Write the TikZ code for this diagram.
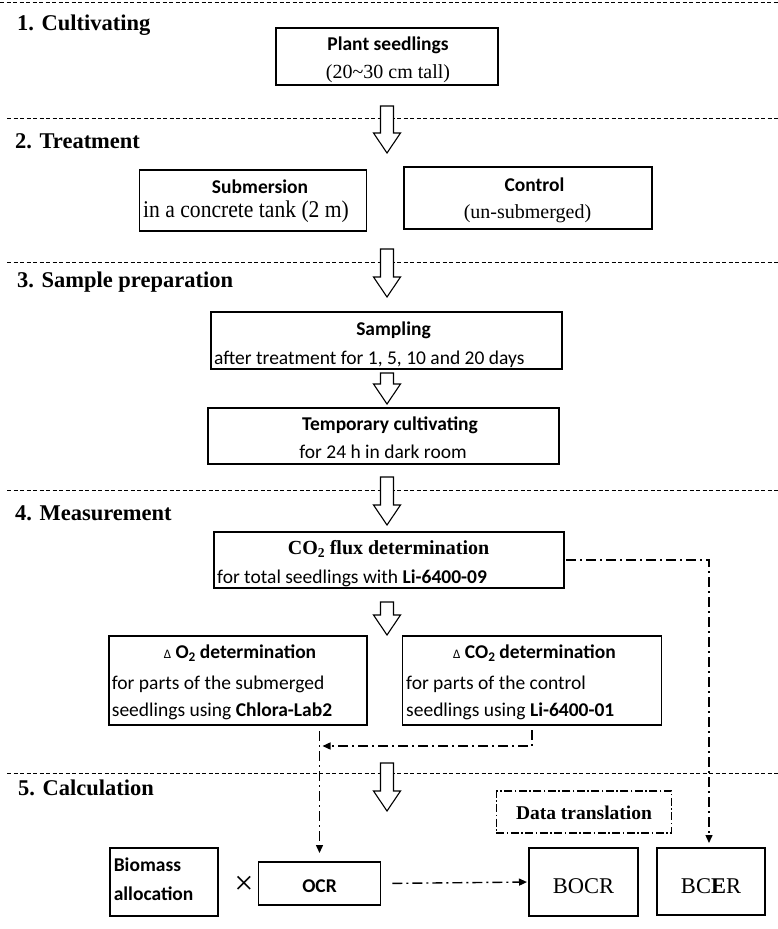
\documentclass[tikz,border=0pt]{standalone}
\usepackage{fontspec}
\setmainfont{Liberation Serif}
\newfontfamily\calfont{Carlito}
\newfontfamily\condserif{Liberation Serif}[FakeStretch=0.9]
\usetikzlibrary{arrows.meta}
\newcommand\mysub[1]{\raisebox{-0.3ex}{\scalebox{0.68}{#1}}}
\newcommand\harrow[3]{%
  \draw[line width=1.1pt, fill=white, line join=miter]
    (#1-6.5,#2) -- (#1+6.5,#2) -- (#1+6.5,#3-20) -- (#1+13.5,#3-20) -- (#1,#3)
    -- (#1-13.5,#3-20) -- (#1-6.5,#3-20) -- cycle;}
\begin{document}
\begin{tikzpicture}[x=1pt,y=-1pt,
  box/.style={draw, line width=1.2pt, inner sep=0pt, outer sep=0pt},
  thickbox/.style={draw, line width=2.2pt, inner sep=0pt, outer sep=0pt},
  sec/.style={font=\fontsize{22.5}{22.5}\selectfont\bfseries, anchor=base west, inner sep=0pt},
  ct/.style={font=\calfont\fontsize{19.5}{19.5}\selectfont\bfseries, anchor=base, inner sep=0pt},
  cr/.style={font=\calfont\fontsize{19.5}{19.5}\selectfont, anchor=base, inner sep=0pt},
  crl/.style={font=\calfont\fontsize{19.5}{19.5}\selectfont, anchor=base west, inner sep=0pt},
  ctl/.style={font=\calfont\fontsize{19.5}{19.5}\selectfont\bfseries, anchor=base west, inner sep=0pt},
  sr/.style={font=\fontsize{20}{20}\selectfont, anchor=base, inner sep=0pt},
  sb/.style={font=\fontsize{20}{20}\selectfont\bfseries, anchor=base, inner sep=0pt},
  sep/.style={line width=1pt, dash pattern=on 4pt off 2.5pt},
  dd/.style={line width=1.4pt, dash pattern=on 10pt off 4pt on 2pt off 4pt},
  tip/.style={-{Triangle[length=8pt,width=7pt]}}
]
\useasboundingbox (0,0) rectangle (778,929);
\fill[white] (0,0) rectangle (778,929);

% separators
\draw[sep] (0,2) -- (778,2);
\draw[sep] (7,118) -- (778,118);
\draw[sep] (7,262) -- (778,262);
\draw[sep] (7,490) -- (778,490);
\draw[sep] (7,773) -- (778,773);

% section labels
\node[sec] (s1) at (17,30) {1. Cultivating};
\node[sec] (s2) at (15,148) {2. Treatment};
\node[sec] (s3) at (17,287.3) {3. Sample preparation};
\node[sec] (s4) at (15,520.7) {4. Measurement};
\node[sec] (s5) at (18,795.7) {5. Calculation};

% boxes
\node[box, minimum width=222pt, minimum height=57pt] (ps) at (387,56.5) {};
\node[box, minimum width=227pt, minimum height=61pt] (sub) at (253,200.5) {};
\node[box, minimum width=248pt, minimum height=62pt] (ctl) at (528,198) {};
\node[box, minimum width=351pt, minimum height=57pt] (samp) at (386.5,340.5) {};
\node[box, minimum width=351pt, minimum height=56pt] (temp) at (383.5,436) {};
\node[box, minimum width=350pt, minimum height=56pt] (flux) at (389,560) {};
\node[box, minimum width=258pt, minimum height=89pt] (do2) at (238,680.5) {};
\node[box, minimum width=259pt, minimum height=89pt] (dco2) at (532,680.5) {};
\node[draw, line width=1.1pt, dash pattern=on 8pt off 2.5pt on 1.5pt off 2.5pt, inner sep=0pt,
      minimum width=175.5pt, minimum height=42pt] (dt) at (584,812) {};
\node[box, minimum width=108pt, minimum height=68pt] (bio) at (164,882) {};
\node[box, minimum width=121.6pt, minimum height=43pt] (ocr) at (319.5,883.5) {};
\node[thickbox, minimum width=109pt, minimum height=68pt] (bocr) at (583.5,882) {};
\node[thickbox, minimum width=108.6pt, minimum height=67pt] (bcer) at (711,881.5) {};

% box texts
\node[ct] (t1a) at (388,50.7) {Plant seedlings};
\node[sr] (t1b) at (388,78.5) {(20\textasciitilde30 cm tall)};
\node[ct] (t2a) at (260,193) {Submersion};
\node[font=\condserif\fontsize{24}{24}\selectfont, anchor=base west, inner sep=0pt] (t2b) at (143,217.3) {in a concrete tank (2 m)};
\node[ct] (t3a) at (534.5,191.7) {Control};
\node[sr] (t3b) at (527.5,218.5) {(un-submerged)};
\node[ct] (t4a) at (393.5,335) {Sampling};
\node[crl] (t4b) at (214,364.5) {after treatment for 1, 5, 10 and 20 days};
\node[ct] (t5a) at (390,430.3) {Temporary cultivating};
\node[cr] (t5b) at (383,458.7) {for 24 h in dark room};
\node[sb] (t6a) at (388.6,554.5) {CO\mysub{2} flux determination};
\node[crl] (t6b) at (217,583.7) {for total seedlings with \textbf{Li-6400-09}};
\node[ct] (t7a) at (240,658.3) {{\mdseries\fontsize{13}{13}\selectfont Δ} O\mysub{2} determination};
\node[crl] (t7b) at (111.7,689) {for parts of the submerged};
\node[crl] (t7c) at (111.7,716) {seedlings using \textbf{Chlora-Lab2}};
\node[ct] (t8a) at (534.5,658.3) {{\mdseries\fontsize{13}{13}\selectfont Δ} CO\mysub{2} determination};
\node[crl] (t8b) at (406,689) {for parts of the control};
\node[crl] (t8c) at (406,716) {seedlings using \textbf{Li-6400-01}};
\node[font=\fontsize{19.5}{19.5}\selectfont\bfseries, anchor=base, inner sep=0pt] (t9) at (584,819.3) {Data translation};
\node[ctl] (t10a) at (113.6,871) {Biomass};
\node[ctl] (t10b) at (113.6,900) {allocation};
\node[font=\fontsize{34}{34}\selectfont, anchor=center, inner sep=0pt] (times) at (244,885) {×};
\node[ct] (t11) at (319.5,892.5) {OCR};
\node[font=\fontsize{22.5}{22.5}\selectfont, anchor=base, inner sep=0pt] (t12) at (583.5,893.3) {BOCR};
\node[font=\fontsize{22.5}{22.5}\selectfont, anchor=base, inner sep=0pt] (t13) at (711,893.3) {BC\textbf{E}R};

% hollow arrows
\harrow{387}{106}{153}
\harrow{387}{249}{297}
\harrow{387}{373}{404}
\harrow{387}{477}{525}
\harrow{387}{602}{635}
\harrow{387}{763}{811}

% dash-dot connectors
\draw[dd, tip, shorten <=2pt, shorten >=5pt] (flux.east) -| ([xshift=-2pt]bcer.north);
\path (0,746) coordinate (jy);
\coordinate (j) at (ocr.north |- jy);
\coordinate (dtop) at ([yshift=-6pt]do2.south -| ocr.north);
\draw[dd, tip, shorten >=9pt] (dtop) -- (ocr.north);
\draw[dd, tip, shorten >=3pt] ([yshift=-5pt]dco2.south) |- (j);
\draw[dd, tip, shorten <=12pt, shorten >=2pt] (ocr.east) -- (bocr.west);
\end{tikzpicture}
\end{document}
